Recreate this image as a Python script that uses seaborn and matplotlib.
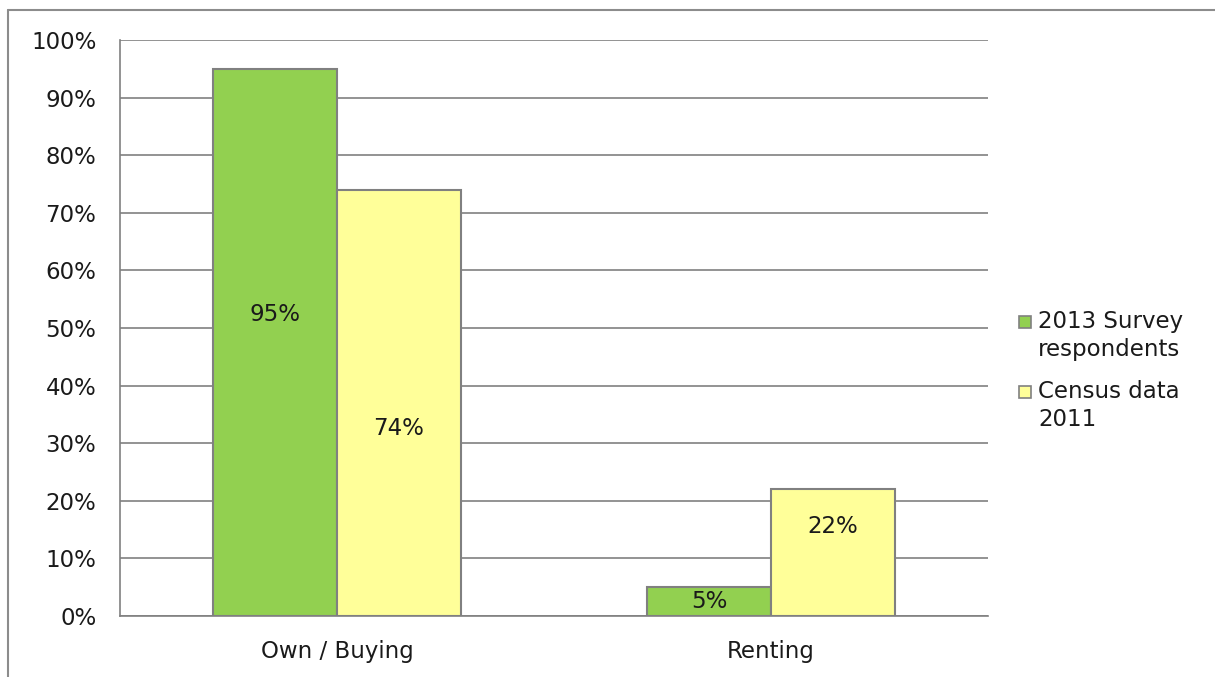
import pandas as pd
import seaborn as sns
import matplotlib.pyplot as plt
from matplotlib.lines import Line2D
from matplotlib.patches import Rectangle

# Data
categories = ['Own / Buying', 'Renting']
series = ['2013 Survey\nrespondents', 'Census data\n2011']
survey_2013 = [95, 5]
census_2011 = [74, 22]
colors = ['#92D050', '#FFFF99']

df = pd.DataFrame({
    'Tenure': categories * 2,
    'Series': [series[0]] * 2 + [series[1]] * 2,
    'Percent': survey_2013 + census_2011,
})

sns.set_style("white")
plt.rcParams['font.family'] = ['DejaVu Sans']
fs = 16.5
W, H = 1215, 677

fig = plt.figure(figsize=(12.15, 6.77), dpi=100)
ax = fig.add_axes([120 / W, 1 - 616 / H, 868 / W, 576 / H])

sns.barplot(data=df, x='Tenure', y='Percent', hue='Series', order=categories,
            hue_order=series, palette=colors, width=0.572, gap=0,
            edgecolor='#808080', linewidth=1.5, saturation=1, ax=ax, legend=False)

# bar labels, placed where the original puts them
label_y = {series[0]: [52.4, 2.6], series[1]: [32.6, 15.5]}
for container, s in zip(ax.containers, series):
    for bar, val, y in zip(container, df[df['Series'] == s]['Percent'], label_y[s]):
        ax.text(bar.get_x() + bar.get_width() / 2, y, f'{val}%',
                ha='center', va='center', fontsize=fs, color='#1a1a1a')

ax.set_ylim(0, 100)
ax.set_xlim(-0.5, 1.5)
ax.set_yticks(range(0, 101, 10))
ax.set_yticklabels([f'{v}%' for v in range(0, 101, 10)], fontsize=fs, color='#1a1a1a')
ax.set_xticks([0, 1])
ax.set_xticklabels(categories, fontsize=fs, color='#1a1a1a')
ax.tick_params(axis='x', length=0, pad=17)
ax.set_xticks([-0.5, 0.5, 1.5], minor=True)
ax.tick_params(axis='x', which='minor', length=5, color='#808080', width=1.2, direction='out')
ax.tick_params(axis='y', length=5, color='#808080', width=1.2, direction='out', pad=12)
ax.set_xlabel('')
ax.set_ylabel('')

ax.grid(axis='y', color='#808080', linewidth=1.2)
ax.set_axisbelow(True)
for side in ['top', 'right']:
    ax.spines[side].set_visible(False)
for side in ['left', 'bottom']:
    ax.spines[side].set_color('#808080')
    ax.spines[side].set_linewidth(1.2)

# legend: square beside the first line of each two-line label
legend_rows = [322, 392]
for c, s, row in zip(colors, series, legend_rows):
    fig.add_artist(Rectangle((1019 / W, 1 - (row + 6) / H), 12 / W, 12 / H,
                             transform=fig.transFigure, facecolor=c,
                             edgecolor='#808080', linewidth=1.2))
    fig.text(1038 / W, 1 - (row - 12) / H, s, fontsize=fs, color='#1a1a1a',
             ha='left', va='top', linespacing=1.3)

# outer chart frame (left and top edges)
fig.add_artist(Line2D([8 / W, 8 / W], [0, 1 - 10 / H], transform=fig.transFigure,
                      color='#8c8c8c', linewidth=1.5))
fig.add_artist(Line2D([8 / W, 1], [1 - 10 / H, 1 - 10 / H], transform=fig.transFigure,
                      color='#8c8c8c', linewidth=1.5))

fig.savefig('out.png', dpi=100)
